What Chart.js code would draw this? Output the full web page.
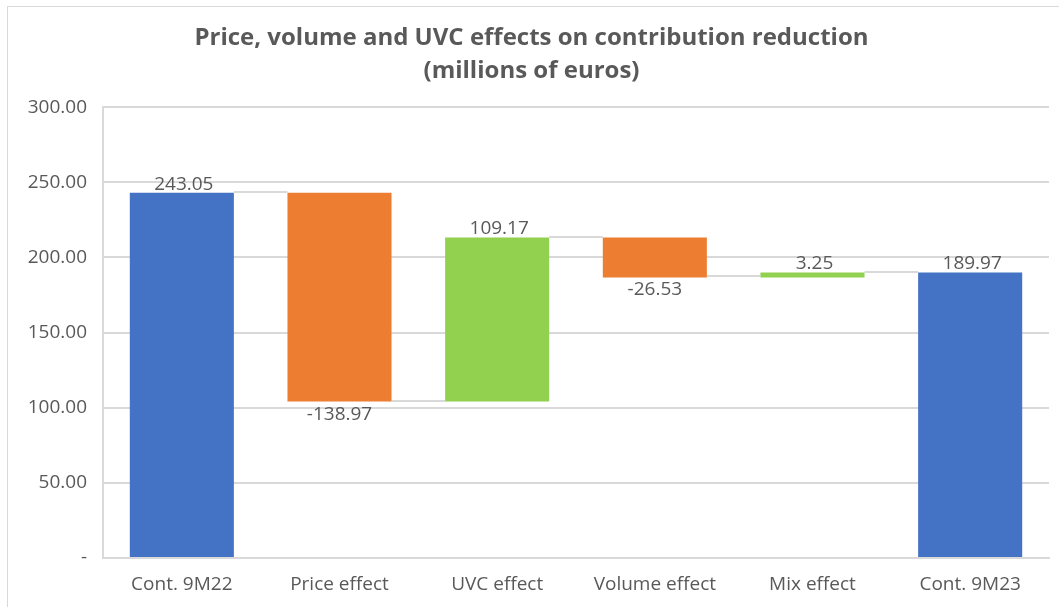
<!DOCTYPE html>
<html>
<head>
<meta charset="utf-8">
<script src="https://cdn.jsdelivr.net/npm/chart.js@4.4.1/dist/chart.umd.min.js"></script>
<style>
  html, body { margin: 0; padding: 0; background: #fff; overflow: hidden; }
  #wrap { position: relative; width: 1059px; height: 607px; }
  #frame { position: absolute; left: 7px; top: 6px; width: 1100px; height: 700px; border: 1px solid #d9d9d9; box-sizing: border-box; pointer-events: none; }
  canvas { position: absolute; left: 0; top: 0; }
</style>
</head>
<body>
<div id="wrap">
  <canvas id="c" width="1059" height="607"></canvas>
  <div id="frame"></div>
</div>
<script>
const categories = ["Cont. 9M22", "Price effect", "UVC effect", "Volume effect", "Mix effect", "Cont. 9M23"];
const changes = [243.05, -138.97, 109.17, -26.53, 3.25, 189.97];
const isTotal = [true, false, false, false, false, true];
const yTicks = [0, 50, 100, 150, 200, 250, 300];
const titleLines = ["Price, volume and UVC effects on contribution reduction", "(millions of euros)"];

const COLORS = { total: "#4472C4", up: "#92D050", down: "#ED7D31" };

// build floating ranges
const ranges = [];
let running = 0;
changes.forEach((v, i) => {
  if (isTotal[i]) { ranges.push([0, v]); running = v; }
  else { const start = running; running = start + v; ranges.push([start, running]); }
});
const colors = changes.map((v, i) => isTotal[i] ? COLORS.total : (v >= 0 ? COLORS.up : COLORS.down));

const FONT = "'Open Sans', 'Noto Sans', sans-serif";
const TXT = "#595959";

const connectorPlugin = {
  id: "connectors",
  beforeDatasetsDraw(chart) {
    const meta = chart.getDatasetMeta(0);
    const y = chart.scales.y;
    const ctx = chart.ctx;
    ctx.save();
    ctx.strokeStyle = "#d9d9d9";
    ctx.lineWidth = 2;
    for (let i = 0; i < ranges.length - 1; i++) {
      const end = ranges[i][1];
      const a = meta.data[i], b = meta.data[i + 1];
      const yy = Math.round(y.getPixelForValue(end)) - 1;
      ctx.beginPath();
      ctx.moveTo(a.x + a.width / 2, yy);
      ctx.lineTo(b.x - b.width / 2, yy);
      ctx.stroke();
    }
    ctx.restore();
  }
};

const labelPlugin = {
  id: "valueLabels",
  afterDatasetsDraw(chart) {
    const meta = chart.getDatasetMeta(0);
    const y = chart.scales.y;
    const ctx = chart.ctx;
    ctx.save();
    ctx.font = "19px " + FONT;
    ctx.fillStyle = TXT;
    ctx.textAlign = "center";
    changes.forEach((v, i) => {
      const el = meta.data[i];
      const top = Math.max(ranges[i][0], ranges[i][1]);
      const bot = Math.min(ranges[i][0], ranges[i][1]);
      const txt = v.toFixed(2);
      if (v >= 0) {
        ctx.textBaseline = "bottom";
        ctx.fillText(txt, el.x + 2, y.getPixelForValue(top) + 1);
      } else {
        ctx.textBaseline = "top";
        ctx.fillText(txt, el.x, y.getPixelForValue(bot) + 3);
      }
    });
    ctx.restore();
  }
};

new Chart(document.getElementById("c"), {
  type: "bar",
  data: {
    labels: categories,
    datasets: [{
      data: ranges,
      backgroundColor: colors,
      borderWidth: 0,
      categoryPercentage: 1,
      barPercentage: 0.66
    }]
  },
  options: {
    responsive: false,
    animation: false,
    layout: { padding: { left: 14, right: 10, top: 0, bottom: 0 } },
    plugins: {
      legend: { display: false },
      tooltip: { enabled: false },
      title: {
        display: true,
        text: titleLines,
        color: TXT,
        font: { family: FONT, size: 24, weight: "bold", lineHeight: 1.4 },
        padding: { top: 21, bottom: 19 }
      }
    },
    scales: {
      x: {
        grid: { display: false, drawTicks: false },
        border: { display: true, color: "#d9d9d9", width: 2 },
        ticks: { color: TXT, font: { family: FONT, size: 19 }, padding: 15 },
        afterFit(s) { s.height = 49; }
      },
      y: {
        min: 0, max: 300,
        afterBuildTicks(s) { s.ticks = yTicks.map(v => ({ value: v })); },
        grid: { color: "#d9d9d9", lineWidth: 2, drawTicks: false },
        border: { display: true, color: "#d9d9d9", width: 2 },
        ticks: {
          color: TXT, font: { family: FONT, size: 19 }, padding: 16,
          callback: v => v === 0 ? "-" : Number(v).toFixed(2)
        },
        afterFit(s) { s.width = 89; }
      }
    }
  },
  plugins: [connectorPlugin, labelPlugin]
});
</script>
</body>
</html>
